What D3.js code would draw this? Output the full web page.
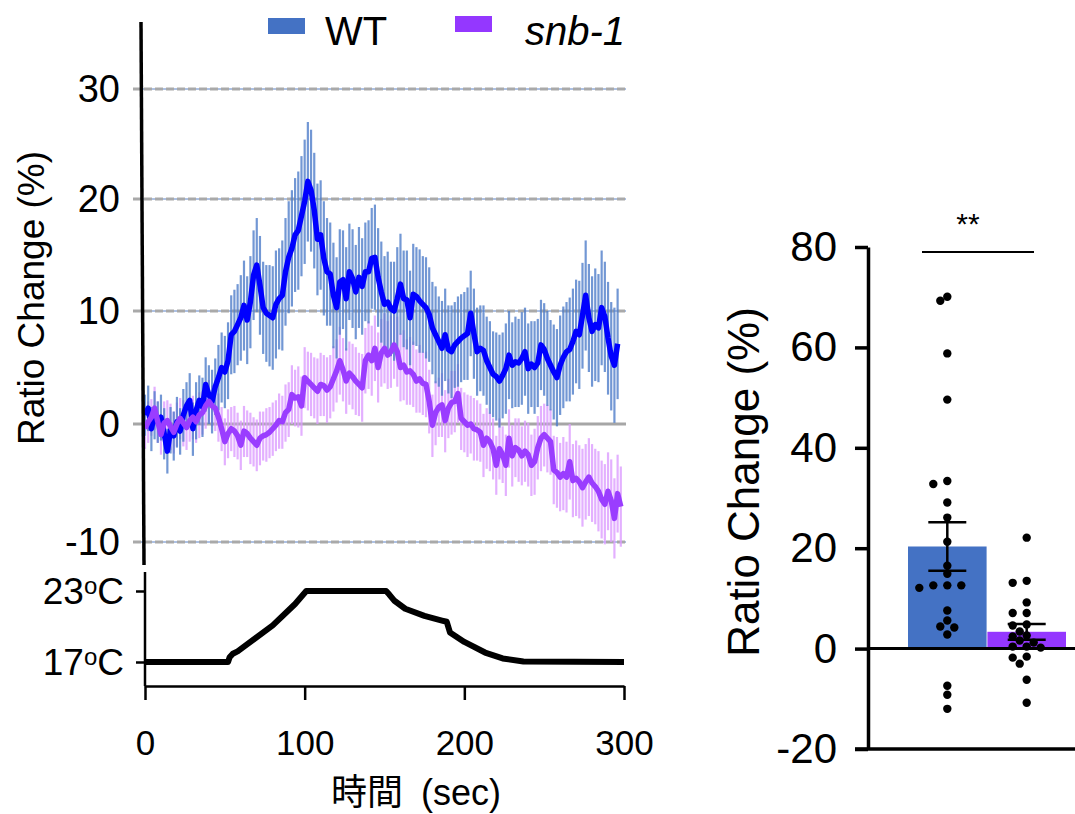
<!DOCTYPE html>
<html>
<head>
<meta charset="utf-8">
<script src="https://cdn.jsdelivr.net/npm/d3@7"></script>
<style>
  body { margin: 0; background: #fff; }
  text { font-family: "Liberation Sans", Arial, "Noto Sans CJK JP", sans-serif; }
</style>
</head>
<body>
<script>
// sampling interval of the traces (s)
const step = 2;

// WT mean ratio change (%), every 2 s from 0 s
const wtMean = [
  0.8, 1.4, -0.4, 0.8, 0.2,   0.6, -0.8, -2.3, -0.5, -1.0,
  0.2, -0.6, 0.8, 1.6, 2.1,   -0.4, 1.2, 2.1, 1.5, 3.5,
  2.6, 2.0, 3.3, 4.1, 5.0,    4.6, 5.6, 7.9, 8.2, 8.8,
  9.4, 10.5, 9.2, 10.8, 13.2, 14.1, 12.3, 10.3, 9.8, 9.6,
  9.4, 10.6, 11.1, 11.4, 13.5, 14.8, 15.6, 16.8, 17.2, 18.5,
  19.8, 21.6, 20.8, 19.0, 16.4, 16.8, 14.7, 13.5, 13.3, 11.4,
  10.3, 12.6, 12.8, 11.1, 13.5, 12.9, 11.7, 13.0, 12.2, 13.5,
  13.5, 14.7, 14.8, 13.0, 11.7, 10.6, 10.8, 10.2, 10.0, 11.1,
  12.4, 11.1, 11.0, 9.4, 11.5, 11.3, 10.9, 10.6, 10.3, 9.7,
  8.5, 7.9, 7.3, 6.7, 7.9,    6.6, 6.4, 7.0, 7.3, 7.6,
  7.8, 8.0, 9.8, 8.0, 6.4,    6.7, 6.5, 5.6, 5.0, 4.4,
  4.2, 3.8, 4.3, 4.9, 6.1,    5.2, 5.5, 5.4, 5.8, 6.4,
  4.9, 5.3, 5.0, 5.4, 7.0,    6.6, 5.8, 5.2, 4.6, 4.1,
  5.2, 5.9, 6.4, 6.6, 7.3,    8.2, 7.9, 9.6, 11.4, 9.4,
  8.2, 8.8, 8.5, 10.3, 9.5,   7.6, 6.0, 5.2, 7.1
];
const wtSem = [
  1.8, 2.0, 1.9, 2.1, 1.8,    2.0, 2.2, 1.9, 2.0, 2.1,
  2.2, 2.0, 2.3, 2.1, 2.4,    2.3, 2.5, 2.2, 2.6, 2.4,
  2.6, 2.8, 2.5, 2.9, 3.1,    3.2, 3.4, 3.5, 3.7, 3.6,
  3.8, 4.0, 3.9, 4.1, 4.0,    4.2, 4.4, 4.1, 4.3, 4.5,
  4.6, 4.8, 4.5, 4.9, 4.8,    5.0, 5.2, 5.1, 5.3, 5.4,
  5.6, 5.4, 5.5, 5.2, 5.0,    4.9, 5.1, 4.8, 4.6, 4.7,
  4.5, 4.7, 4.4, 4.6, 4.3,    4.4, 4.2, 4.5, 4.3, 4.4,
  4.6, 4.5, 4.7, 4.4, 4.5,    4.3, 4.5, 4.2, 4.4, 4.6,
  4.5, 4.3, 4.4, 4.2, 4.5,    4.4, 4.6, 4.3, 4.5, 4.2,
  4.1, 4.3, 4.0, 4.2, 4.1,    3.9, 4.1, 3.8, 4.0, 3.9,
  3.9, 4.1, 3.8, 4.0, 3.9,    3.8, 4.0, 3.9, 4.1, 3.8,
  3.9, 4.1, 3.8, 4.0, 3.9,    3.8, 4.0, 3.9, 4.1, 3.9,
  4.0, 3.8, 4.1, 3.9, 4.0,    4.1, 4.2, 4.0, 4.2, 4.3,
  4.4, 4.5, 4.4, 4.6, 4.7,    4.6, 4.8, 4.7, 4.9, 4.8,
  4.9, 5.0, 4.8, 5.1, 4.9,    5.0, 4.8, 5.1, 4.9
];

// snb-1 mean ratio change (%), every 2 s from 0 s
const snbMean = [
  -0.4, 0.2, 0.6, 1.4, 0.2,   -0.9, 0.1, 0.3, -0.2, -0.7,
  0.0, 0.5, 0.1, -0.3, 0.3,   0.6, 0.2, 0.8, 1.0, 1.6,
  2.0, 1.6, 1.4, 0.6, -0.4,   -1.5, -0.8, -0.4, -0.6, -1.0,
  -1.8, -0.6, -0.8, -1.2, -1.5, -1.8, -1.2, -1.0, -0.9, -0.7,
  -0.4, -0.1, 0.3, 0.2, 1.0,  1.3, 2.6, 2.3, 2.4, 1.6,
  4.1, 3.8, 3.5, 3.2, 2.9,    3.5, 3.4, 3.0, 3.3, 4.0,
  4.7, 5.6, 4.8, 3.8, 4.5,    4.2, 3.8, 3.5, 3.2, 5.6,
  6.1, 5.6, 6.7, 5.0, 6.3,    6.7, 6.1, 6.4, 7.0, 6.4,
  5.0, 5.2, 4.6, 4.7, 4.4,    3.8, 4.0, 3.6, 3.5, 2.0,
  -0.1, 1.0, 1.5, 1.7, 0.3,   1.4, 1.9, 2.0, 2.7, 0.5,
  0.2, -0.1, 0.0, -0.4, -0.5, -0.7, -1.8, -1.2, -1.5, -2.1,
  -3.5, -2.1, -2.6, -3.5, -1.2, -2.7, -2.0, -2.2, -2.7, -2.3,
  -2.6, -3.5, -3.2, -2.0, -1.2, -0.9, -1.2, -1.5, -3.9, -4.1,
  -4.5, -4.2, -4.5, -3.2, -4.8, -4.6, -4.9, -5.4, -4.9, -4.5,
  -5.0, -5.3, -5.7, -6.4, -6.8, -5.7, -6.5, -8.0, -5.9, -7.0
];
const snbSem = [
  1.7, 1.8, 1.6, 1.9, 1.8,    1.7, 1.9, 1.8, 2.0, 1.8,
  1.9, 1.8, 2.0, 1.9, 1.8,    1.9, 1.8, 2.0, 1.9, 2.0,
  1.9, 1.8, 2.0, 2.1, 1.9,    2.0, 2.1, 1.9, 2.2, 2.0,
  2.1, 2.2, 2.0, 2.2, 2.1,    2.2, 2.3, 2.1, 2.3, 2.2,
  2.3, 2.2, 2.4, 2.3, 2.5,    2.4, 2.6, 2.5, 2.7, 2.6,
  2.7, 2.6, 2.8, 2.7, 2.9,    2.8, 2.7, 2.9, 2.8, 2.9,
  2.8, 3.0, 2.8, 2.9, 2.8,    2.9, 3.0, 2.8, 3.0, 2.9,
  3.0, 3.1, 2.9, 3.1, 3.0,    3.1, 3.0, 3.2, 3.0, 3.1,
  3.0, 3.1, 2.9, 3.0, 2.9,    2.8, 3.0, 2.8, 2.9, 2.8,
  2.7, 2.8, 2.6, 2.8, 2.7,    2.6, 2.8, 2.7, 2.6, 2.7,
  2.6, 2.7, 2.5, 2.7, 2.6,    2.5, 2.7, 2.6, 2.5, 2.6,
  2.5, 2.6, 2.4, 2.6, 2.5,    2.6, 2.5, 2.7, 2.5, 2.6,
  2.7, 2.6, 2.8, 2.7, 2.8,    2.7, 2.9, 2.8, 2.9, 3.0,
  2.9, 3.1, 3.0, 3.2, 3.1,    3.2, 3.1, 3.3, 3.2, 3.3,
  3.3, 3.2, 3.4, 3.3, 3.4,    3.3, 3.5, 3.4, 3.3, 3.4
];

// stimulus temperature, breakpoints
const tempTime  = [0, 52, 53, 55, 58, 62, 80, 94, 101, 151, 153, 156, 163, 175, 186, 189, 191, 200, 213, 224, 237, 300];
const tempValue = [17, 17, 17.4, 17.7, 17.9, 18.3, 20.1, 21.9, 23, 23, 22.7, 22.2, 21.5, 20.9, 20.5, 20.4, 19.5, 18.7, 17.8, 17.3, 17.05, 17];

// per-animal responses (%), bar panel
const groups = ["WT", "snb-1"];
const wtDots = [70.1, 69.3, 58.8, 49.6, 33.4, 32.8, 29.1, 26.1, 21.3, 16.5, 14.9,
  12.6, 12.6, 12.1, 12.6, 7.6, 4.4, 4.2, 5.6, 2.8, -7.4, -9.2, -12.0];
const snbDots = [22.1, 13.5, 13.1, 9.2, 7.1, 7.1, 4.8, 4.6, 3.4, 2.6, 2.4, 1.6, 1.2,
  0.4, 0.4, 0.2, -1.8, -1.6, -3.0, -6.2, -10.8];

const traceTicks = [-10, 0, 10, 20, 30];
const timeTicks = [0, 100, 200, 300];
const tempTicks = [17, 23];
const barTicks = [-20, 0, 20, 40, 60, 80];

const colWT = "#4472c4", colSnb = "#9437ff";
const plain = d => String(d);   // hyphen minus, as in the original

const W = 1075, H = 814;
const svg = d3.select("body").append("svg")
    .attr("width", W).attr("height", H)
    .attr("viewBox", [0, 0, W, H]);

// ---------- left: traces ----------
const x = d3.scaleLinear([0, 300], [145, 624]);
const y = d3.scaleLinear(traceTicks, [542, 424, 311, 199, 89]);

const grid = svg.append("g");
for (const v of traceTicks) {
  if (v === 0) {
    grid.append("line").attr("x1", 133).attr("x2", 626)
        .attr("y1", y(v)).attr("y2", y(v))
        .attr("stroke", "#a6a6a6").attr("stroke-width", 3);
  } else {
    grid.append("line").attr("x1", 133).attr("x2", 626)
        .attr("y1", y(v)).attr("y2", y(v))
        .attr("stroke", "#5b82c8").attr("stroke-width", 1);
    grid.append("line").attr("x1", 133).attr("x2", 626)
        .attr("y1", y(v)).attr("y2", y(v))
        .attr("stroke", "#a9a9a9").attr("stroke-width", 3)
        .attr("stroke-dasharray", "8,3");
  }
}

svg.append("g")
    .attr("transform", "translate(126,0)")
    .call(d3.axisLeft(y).tickValues(traceTicks).tickFormat(plain).tickSize(0).tickPadding(6))
    .call(g => g.select(".domain").remove())
    .selectAll("text")
    .attr("font-size", 38).attr("fill", "#000")
    .style("font-family", "'Liberation Sans', Arial, sans-serif");

svg.append("text")
    .attr("transform", "translate(31,298) rotate(-90)")
    .attr("text-anchor", "middle").attr("dominant-baseline", "central")
    .attr("font-size", 37)
    .text("Ratio Change (%)");

function errorBars(mean, sem, color, opacity) {
  svg.append("g").selectAll("line")
    .data(mean.map((m, i) => ({t: i * step, m, s: sem[i]})))
    .join("line")
      .attr("x1", d => x(d.t)).attr("x2", d => x(d.t))
      .attr("y1", d => y(d.m - d.s)).attr("y2", d => y(d.m + d.s))
      .attr("stroke", color).attr("stroke-width", 2.2)
      .attr("stroke-opacity", opacity);
}
function trace(mean, color) {
  svg.append("path")
    .datum(mean)
    .attr("fill", "none").attr("stroke", color)
    .attr("stroke-width", 5.5).attr("stroke-linejoin", "round")
    .attr("d", d3.line().x((d, i) => x(i * step)).y(d => y(d)));
}

errorBars(snbMean, snbSem, "#dc9cff", 0.8);
errorBars(wtMean, wtSem, "#4f7dc9", 0.8);
trace(wtMean, "#0000ff");
trace(snbMean, "#9a3dff");

// left axis line
svg.append("line").attr("x1", 141).attr("y1", 22).attr("x2", 144).attr("y2", 565)
    .attr("stroke", "#000").attr("stroke-width", 3.5);

// legend
const legend = [
  {name: groups[0], color: colWT, rx: 268, ry: 18, tx: 325, italic: false},
  {name: groups[1], color: colSnb, rx: 455, ry: 16, tx: 525, italic: true}
];
for (const l of legend) {
  svg.append("rect").attr("x", l.rx).attr("y", l.ry).attr("width", 37).attr("height", 16)
      .attr("fill", l.color);
  svg.append("text").attr("x", l.tx).attr("y", 45)
      .attr("font-size", 40).attr("font-style", l.italic ? "italic" : "normal")
      .text(l.name);
}

// ---------- temperature panel ----------
const yT = d3.scaleLinear([17, 23], [662, 591]);

svg.append("path")
    .datum(tempTime.map((t, i) => [t, tempValue[i]]))
    .attr("fill", "none").attr("stroke", "#000").attr("stroke-width", 6)
    .attr("stroke-linejoin", "round")
    .attr("d", d3.line().x(d => x(d[0])).y(d => yT(d[1])));

svg.append("g")
    .attr("transform", "translate(145,0)")
    .call(d3.axisLeft(yT).tickValues(tempTicks).tickSize(9).tickSizeOuter(0).tickFormat(""))
    .call(g => g.select(".domain").attr("d", "M0,572V686"))
    .call(g => g.selectAll("path,line").attr("stroke-width", 2.5));

for (const v of tempTicks) {
  const t = svg.append("text").attr("x", 124).attr("y", yT(v) + 13)
      .attr("text-anchor", "end").attr("font-size", 37);
  t.append("tspan").text(v);
  t.append("tspan").attr("font-size", 24).attr("dy", -10).text("o");
  t.append("tspan").attr("dy", 10).text("C");
}

svg.append("g")
    .attr("transform", "translate(0,686)")
    .call(d3.axisBottom(x).tickValues(timeTicks).tickSize(14).tickSizeOuter(0).tickPadding(30))
    .call(g => g.selectAll("path,line").attr("stroke-width", 2.5))
    .selectAll("text")
    .attr("font-size", 35).attr("fill", "#000")
    .style("font-family", "'Liberation Sans', Arial, sans-serif");

svg.append("text")
    .attr("x", 416).attr("y", 805).attr("text-anchor", "middle")
    .attr("font-size", 36)
    .text("時間\u2002(sec)");

// ---------- right: bar panel ----------
const yB = d3.scaleLinear([-20, 80], [749, 247]);
const xB = d3.scaleBand(groups, [908, 1066]).paddingInner(0.01);

const stats = [wtDots, snbDots].map((vals, i) => {
  const m = d3.mean(vals);
  const se = d3.deviation(vals) / Math.sqrt(vals.length);
  return {g: groups[i], vals, m, se, color: i ? colSnb : colWT};
});

svg.append("g").selectAll("rect")
  .data(stats)
  .join("rect")
    .attr("x", d => xB(d.g)).attr("width", xB.bandwidth())
    .attr("y", d => yB(Math.max(0, d.m)))
    .attr("height", d => Math.abs(yB(d.m) - yB(0)))
    .attr("fill", d => d.color);

// zero line and baseline
svg.append("line").attr("x1", 868).attr("x2", 1075).attr("y1", yB(0)).attr("y2", yB(0))
    .attr("stroke", "#000").attr("stroke-width", 3);

svg.append("g")
    .attr("transform", "translate(868,0)")
    .call(d3.axisLeft(yB).tickValues(barTicks).tickFormat(plain).tickSize(13).tickSizeOuter(0).tickPadding(18))
    .call(g => g.selectAll("path,line").attr("stroke-width", 3.5))
    .selectAll("text")
    .attr("font-size", 42).attr("fill", "#000")
    .style("font-family", "'Liberation Sans', Arial, sans-serif");

svg.append("line").attr("x1", 855).attr("x2", 1075).attr("y1", yB(-20)).attr("y2", yB(-20))
    .attr("stroke", "#000").attr("stroke-width", 3.5);

svg.append("text")
    .attr("transform", "translate(743,482) rotate(-90)")
    .attr("text-anchor", "middle").attr("dominant-baseline", "central")
    .attr("font-size", 44)
    .text("Ratio Change (%)");

// simple beeswarm: dots keep their value, spread sideways on collision
function swarm(vals, cx, r) {
  const placed = [];
  const pts = vals.map(v => ({v, y: yB(v)})).sort((a, b) => a.y - b.y);
  for (const p of pts) {
    for (let k = 0; k < 20; k++) {
      const off = k === 0 ? 0 : (k % 2 ? -1 : 1) * Math.ceil(k / 2) * 7;
      if (placed.every(q => Math.hypot(q.x - (cx + off), q.y - p.y) >= 2 * r - 0.2)) {
        p.x = cx + off;
        break;
      }
    }
    placed.push(p);
  }
  return placed;
}

for (const s of stats) {
  const cx = xB(s.g) + xB.bandwidth() / 2;
  svg.append("g").selectAll("circle")
    .data(swarm(s.vals, cx, 4))
    .join("circle")
      .attr("cx", d => d.x).attr("cy", d => d.y).attr("r", 4.2)
      .attr("fill", "#000");

  const eb = svg.append("g").attr("stroke", "#000").attr("stroke-width", 2.5);
  eb.append("line").attr("x1", cx).attr("x2", cx)
      .attr("y1", yB(s.m - s.se)).attr("y2", yB(s.m + s.se));
  for (const v of [s.m - s.se, s.m + s.se]) {
    eb.append("line").attr("x1", cx - 19).attr("x2", cx + 19)
        .attr("y1", yB(v)).attr("y2", yB(v));
  }
}

// significance
svg.append("line").attr("x1", 922).attr("x2", 1034).attr("y1", 252).attr("y2", 252)
    .attr("stroke", "#000").attr("stroke-width", 2);
svg.append("text").attr("x", 968).attr("y", 234).attr("text-anchor", "middle")
    .attr("font-size", 30).text("**");
</script>
</body>
</html>
